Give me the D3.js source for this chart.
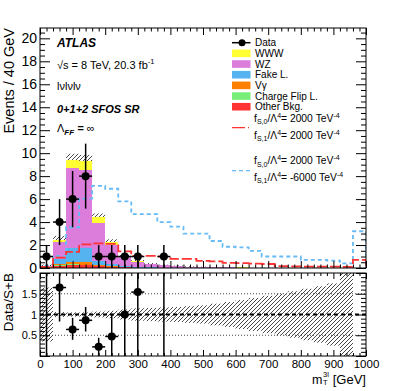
<!DOCTYPE html>
<html><head><meta charset="utf-8">
<script src="https://cdn.jsdelivr.net/npm/d3@7"></script>
<style>
body{margin:0;background:#fff}
text{font-family:"Liberation Sans",Arial,Helvetica,sans-serif}
</style></head><body>
<script>
// ---- data ----
const binLow = [0,40,80,120,160,200,240,280,320,360,400,440,480,520,560,600,640,680,720,760,800,840,880,920,960];
const binWidth = 40;
const otherBkg  = [0.03,0.2,0.28,0.25,0.15,0.1,0.05,0.04,0.03,0.02,0.02,0.01,0.01,0,0,0,0,0,0,0,0,0,0,0,0];
const chargeFlip= [0,0.02,0.03,0.03,0.02,0.01,0,0,0,0,0,0,0,0,0,0,0,0,0,0,0,0,0,0,0];
const vgamma    = [0.02,0.15,0.2,0.2,0.05,0.03,0.01,0,0,0,0,0,0,0,0,0,0,0,0,0,0,0,0,0,0];
const fakeL     = [0.05,0.45,1.2,1.3,0.35,0.25,0.12,0.05,0.03,0.02,0.02,0.01,0.01,0,0,0,0,0,0,0,0,0,0,0,0];
const wzBkg     = [0.08,1.48,6.99,6.72,3.33,1.61,0.75,0.45,0.28,0.18,0.13,0.09,0.07,0.06,0.05,0.04,0.03,0.03,0.02,0.02,0.02,0.01,0.01,0.01,0.01];
const wwwSig    = [0.02,0.15,0.7,0.8,0.5,0.3,0.1,0.08,0.05,0.03,0.02,0.02,0.01,0.01,0.01,0.01,0,0,0,0,0,0,0,0,0];
const bkgErr    = [0.1,0.35,0.55,0.55,0.35,0.2,0.1,0.08,0.05,0.04,0.03,0.03,0.02,0.02,0.02,0.02,0.01,0.01,0.01,0.01,0.01,0.01,0.01,0.01,0];
const sigRed    = [0.1,0.9,1.4,2.05,2.15,2.1,1.45,1.05,1.05,1.0,0.8,0.8,0.62,0.58,0.45,0.42,0.38,0.35,0.17,0.15,0.12,0.12,0.12,0.1,0.7];
const sigBlue   = [0.2,1.05,3.55,6.05,7.15,6.9,5.8,4.7,4.7,4.0,3.6,3.0,3.0,2.35,1.85,1.8,1.5,1.0,1.0,1.0,0.7,0.7,0.65,0.4,3.2];
const dataX     = [20,60,100,140,180,220,260,300,380];
const dataY     = [1,4,6,8,1,1,1,1,1];
const dataErr   = [1,2,2.45,2.83,1,1,1,1,1];
const ratioY    = [6.5,1.65,0.64,0.86,0.22,0.47,1.0,1.54,5.0];
const ratioLo   = [0,0.83,0.39,0.59,0,0,0,0,0];
const ratioHi   = [13,3.3,0.92,1.18,0.44,1.02,2.5,3.1,10];
const ratioBand = [0.65,0.06,0.05,0.05,0.07,0.09,0.12,0.15,0.16,0.17,0.18,0.2,0.22,0.26,0.3,0.35,0.4,0.45,0.5,0.56,0.62,0.68,0.75,1.2,0];
const mainYTicks = [0,2,4,6,8,10,12,14,16,18,20];
const ratioYTicks = [0.5,1,1.5];
const xTicks = [0,100,200,300,400,500,600,700,800,900,1000];

const colors = {other:"#ff3333", cf:"#77ee77", vg:"#ff8000", fake:"#55b4f0", wz:"#dc7ddc", www:"#ffff33"};

// ---- setup ----
const W=407,H=391, L=40, R=366, T=28, B=268, RT=273, RB=356;
const svg=d3.select("body").append("svg").attr("width",W).attr("height",H);
svg.append("rect").attr("width",W).attr("height",H).attr("fill","#fff");
const defs=svg.append("defs");
const pat=defs.append("pattern").attr("id","hatch").attr("patternUnits","userSpaceOnUse").attr("width",4).attr("height",4);
pat.append("path").attr("d","M-1,1 l2,-2 M0,4 l4,-4 M3,5 l2,-2").attr("stroke","#333").attr("stroke-width",0.9);
defs.append("clipPath").attr("id","cm").append("rect").attr("x",L).attr("y",T).attr("width",R-L).attr("height",B-T);
defs.append("clipPath").attr("id","cr").append("rect").attr("x",L).attr("y",RT).attr("width",R-L).attr("height",RB-RT);

const x=d3.scaleLinear().domain([0,1000]).range([L,R]);
const y=d3.scaleLinear().domain([0,20.9]).range([B,T]);
const yr=d3.scaleLinear().domain([0,2]).range([RB,RT]);

const gm=svg.append("g").attr("clip-path","url(#cm)");

// stack
const rows=binLow.map((b,i)=>({b,other:otherBkg[i],cf:chargeFlip[i],vg:vgamma[i],fake:fakeL[i],wz:wzBkg[i],www:wwwSig[i]}));
const keys=["other","cf","vg","fake","wz","www"];
const series=d3.stack().keys(keys)(rows);
const total=series[series.length-1].map(d=>d[1]);

// hatch band (main)
gm.append("g").selectAll("rect").data(binLow.map((b,i)=>({b,t:total[i],e:bkgErr[i]})).filter(d=>d.e>0))
  .join("rect").attr("x",d=>x(d.b)).attr("width",d=>x(d.b+binWidth)-x(d.b))
  .attr("y",d=>y(d.t+d.e)).attr("height",d=>y(d.t-d.e)-y(d.t+d.e)).attr("fill","url(#hatch)");

series.forEach(s=>{
  gm.append("g").selectAll("rect").data(s.filter(d=>d[1]-d[0]>0)).join("rect")
    .attr("x",d=>x(d.data.b)).attr("width",d=>x(d.data.b+binWidth)-x(d.data.b))
    .attr("y",d=>y(d[1])).attr("height",d=>y(d[0])-y(d[1]))
    .attr("fill",colors[s.key]).attr("shape-rendering","crispEdges");
});

function stepPts(vals){
  const p=[[0,0]];
  binLow.forEach((b,i)=>{p.push([b,vals[i]]);p.push([b+binWidth,vals[i]]);});
  p.push([1000,0]);
  return p;
}
const line=d3.line().x(d=>x(d[0])).y(d=>y(d[1]));
gm.append("path").attr("d",line(stepPts(sigBlue))).attr("fill","none").attr("stroke","#66bbf5").attr("stroke-width",1.8).attr("stroke-dasharray","4,3");
gm.append("path").attr("d",line(stepPts(sigRed))).attr("fill","none").attr("stroke","#ff3333").attr("stroke-width",1.8).attr("stroke-dasharray","10,3");

// data
const dg=gm.append("g");
dataX.forEach((dx,i)=>{
  dg.append("line").attr("x1",x(dx)).attr("x2",x(dx)).attr("y1",y(dataY[i]-dataErr[i])).attr("y2",y(dataY[i]+dataErr[i])).attr("stroke","#000").attr("stroke-width",1.5);
  dg.append("line").attr("x1",x(dx-binWidth/2)).attr("x2",x(dx+binWidth/2)).attr("y1",y(dataY[i])).attr("y2",y(dataY[i])).attr("stroke","#000").attr("stroke-width",1.5);
  dg.append("circle").attr("cx",x(dx)).attr("cy",y(dataY[i])).attr("r",4).attr("fill","#000");
});

// ---- ratio ----
const gr=svg.append("g").attr("clip-path","url(#cr)");
gr.append("g").selectAll("rect").data(binLow.map((b,i)=>({b,e:ratioBand[i]})).filter(d=>d.e>0))
  .join("rect").attr("x",d=>x(d.b)).attr("width",d=>x(d.b+binWidth)-x(d.b))
  .attr("y",d=>yr(1+d.e)).attr("height",d=>yr(1-d.e)-yr(1+d.e)).attr("fill","url(#hatch)");
[0.5,1.5].forEach(v=>gr.append("line").attr("x1",L).attr("x2",R).attr("y1",yr(v)).attr("y2",yr(v)).attr("stroke","#444").attr("stroke-width",1).attr("stroke-dasharray","1,2"));
gr.append("line").attr("x1",L).attr("x2",R).attr("y1",yr(1)).attr("y2",yr(1)).attr("stroke","#000").attr("stroke-width",2).attr("stroke-dasharray","4,3");
dataX.forEach((dx,i)=>{
  gr.append("line").attr("x1",x(dx)).attr("x2",x(dx)).attr("y1",yr(ratioLo[i])).attr("y2",yr(ratioHi[i])).attr("stroke","#000").attr("stroke-width",1.5);
  gr.append("line").attr("x1",x(dx-binWidth/2)).attr("x2",x(dx+binWidth/2)).attr("y1",yr(ratioY[i])).attr("y2",yr(ratioY[i])).attr("stroke","#000").attr("stroke-width",1.5);
  gr.append("circle").attr("cx",x(dx)).attr("cy",yr(ratioY[i])).attr("r",4).attr("fill","#000");
});

// ---- frames & axes ----
function minorVals(lo,hi,step,majors){const v=[];for(let t=lo;t<=hi+1e-9;t+=step){if(!majors.some(m=>Math.abs(m-t)<1e-6))v.push(+t.toFixed(4));}return v;}
const xMinor=minorVals(0,1000,20,xTicks);
const yMinor=minorVals(0,20.9,0.5,mainYTicks);
const rYMajor=[0,0.5,1,1.5,2];
const rYMinor=minorVals(0,2,0.1,rYMajor);

function tickAxis(axisFn,scale,vals,size,tx,ty){
  const g=svg.append("g").attr("transform",`translate(${tx},${ty})`).call(axisFn(scale).tickValues(vals).tickSize(size).tickFormat(""));
  g.select(".domain").remove();
  g.selectAll("line").attr("stroke","#000").attr("stroke-width",1);
}
// main
tickAxis(d3.axisRight,y,mainYTicks,10,L,0);
tickAxis(d3.axisRight,y,yMinor,5,L,0);
tickAxis(d3.axisLeft,y,mainYTicks,10,R,0);
tickAxis(d3.axisLeft,y,yMinor,5,R,0);
tickAxis(d3.axisTop,x,xTicks,7,0,B);
tickAxis(d3.axisTop,x,xMinor,3.5,0,B);
tickAxis(d3.axisBottom,x,xTicks,7,0,T);
tickAxis(d3.axisBottom,x,xMinor,3.5,0,T);
// ratio
tickAxis(d3.axisRight,yr,rYMajor,10,L,0);
tickAxis(d3.axisRight,yr,rYMinor,5,L,0);
tickAxis(d3.axisLeft,yr,rYMajor,10,R,0);
tickAxis(d3.axisLeft,yr,rYMinor,5,R,0);
tickAxis(d3.axisTop,x,xTicks,6,0,RB);
tickAxis(d3.axisTop,x,xMinor,3,0,RB);
tickAxis(d3.axisBottom,x,xTicks,6,0,RT);
tickAxis(d3.axisBottom,x,xMinor,3,0,RT);

svg.append("rect").attr("x",L).attr("y",T).attr("width",R-L).attr("height",B-T).attr("fill","none").attr("stroke","#000").attr("stroke-width",1);
svg.append("rect").attr("x",L).attr("y",RT).attr("width",R-L).attr("height",RB-RT).attr("fill","none").attr("stroke","#000").attr("stroke-width",1);

// labels
const gyl=svg.append("g").attr("transform",`translate(${L},0)`).call(d3.axisLeft(y).tickValues(mainYTicks).tickSize(0).tickPadding(3).tickFormat(d3.format("d")));
gyl.select(".domain").remove();
gyl.selectAll("text").attr("font-size",14).attr("font-family","Liberation Sans, Arial, sans-serif").attr("fill","#000");
const gryl=svg.append("g").attr("transform",`translate(${L},0)`).call(d3.axisLeft(yr).tickValues(ratioYTicks).tickSize(0).tickPadding(3).tickFormat(d3.format("")));
gryl.select(".domain").remove();
gryl.selectAll("text").attr("font-size",11).attr("font-family","Liberation Sans, Arial, sans-serif").attr("fill","#000");
const gxl=svg.append("g").attr("transform",`translate(0,${RB})`).call(d3.axisBottom(x).tickValues(xTicks).tickSize(0).tickPadding(4).tickFormat(d3.format("d")));
gxl.select(".domain").remove();
gxl.selectAll("text").attr("font-size",11.5).attr("font-family","Liberation Sans, Arial, sans-serif").attr("fill","#000");

// axis titles
svg.append("text").attr("transform","translate(14,28) rotate(-90)").attr("text-anchor","end").attr("font-size",14.5).text("Events / 40 GeV");
svg.append("text").attr("transform","translate(13,273) rotate(-90)").attr("text-anchor","end").attr("font-size",13.5).text("Data/S+B");
svg.append("text").attr("x",366).attr("y",384).attr("text-anchor","end").attr("font-size",13).text("[GeV]");
svg.append("text").attr("x",322.5).attr("y",383.5).attr("text-anchor","end").attr("font-size",12.5).text("m");
svg.append("text").attr("x",323).attr("y",376.5).attr("font-size",7.5).text("3l");
svg.append("text").attr("x",323).attr("y",385).attr("font-size",7.5).text("T");

// left labels
svg.append("text").attr("x",57).attr("y",46.5).attr("font-size",12).attr("font-weight","bold").attr("font-style","italic").text("ATLAS");
const t2=svg.append("text").attr("x",57).attr("y",69).attr("font-size",11);
t2.append("tspan").text("√s = 8 TeV, 20.3 fb");
t2.append("tspan").attr("font-size",7.5).attr("dy",-5).text("-1");
svg.append("text").attr("x",57).attr("y",90).attr("font-size",11).text("lνlνlν");
svg.append("text").attr("x",57).attr("y",112.5).attr("font-size",11).attr("font-weight","bold").attr("font-style","italic").text("0+1+2 SFOS SR");
const t5=svg.append("text").attr("x",57).attr("y",132).attr("font-size",11);
t5.append("tspan").text("Λ");
t5.append("tspan").attr("font-size",8).attr("dy",3).attr("font-weight","bold").attr("font-style","italic").text("FF");
t5.append("tspan").attr("dy",-3).attr("font-weight","bold").attr("font-style","italic").text(" =  ");
t5.append("tspan").text("∞");

// legend
const legItems=[["www","WWW"],["wz","WZ"],["fake","Fake L."],["vg","Vγ"],["cf","Charge Flip L."],["other","Other Bkg."]];
const lx=232, ly0=42.7, ldy=10.67;
svg.append("line").attr("x1",lx).attr("x2",lx+18.5).attr("y1",ly0).attr("y2",ly0).attr("stroke","#000").attr("stroke-width",1.5);
svg.append("circle").attr("cx",lx+10).attr("cy",ly0).attr("r",3.5).attr("fill","#000");
svg.append("text").attr("x",255).attr("y",ly0+3.6).attr("font-size",10).text("Data");
legItems.forEach((it,i)=>{
  const cy=ly0+ldy*(i+1);
  svg.append("rect").attr("x",lx).attr("y",cy-3.8).attr("width",18.5).attr("height",7.6).attr("fill",colors[it[0]]);
  svg.append("text").attr("x",255).attr("y",cy+3.6).attr("font-size",10).text(it[1]);
});
function fText(yb,sub,val){
  const t=svg.append("text").attr("x",254).attr("y",yb).attr("font-size",10.3);
  t.append("tspan").text("f");
  t.append("tspan").attr("font-size",7).attr("dy",2.5).text(sub);
  t.append("tspan").attr("dy",-2.5).text("/Λ");
  t.append("tspan").attr("font-size",7).attr("dy",-4).text("4");
  t.append("tspan").attr("dy",4).text("= "+val+" TeV");
  t.append("tspan").attr("font-size",7).attr("dy",-4).text("-4");
}
fText(121.5,"S,0","2000"); fText(138.5,"S,1","2000");
svg.append("line").attr("x1",lx).attr("x2",lx+18.5).attr("y1",127.7).attr("y2",127.7).attr("stroke","#ff3333").attr("stroke-width",1.3).attr("stroke-dasharray","13,3,1,3");
fText(164,"S,0","2000"); fText(180.5,"S,1","-6000");
svg.append("line").attr("x1",lx).attr("x2",lx+18.5).attr("y1",170.7).attr("y2",170.7).attr("stroke","#66bbf5").attr("stroke-width",1.3).attr("stroke-dasharray","4,3");
</script>
</body></html>
